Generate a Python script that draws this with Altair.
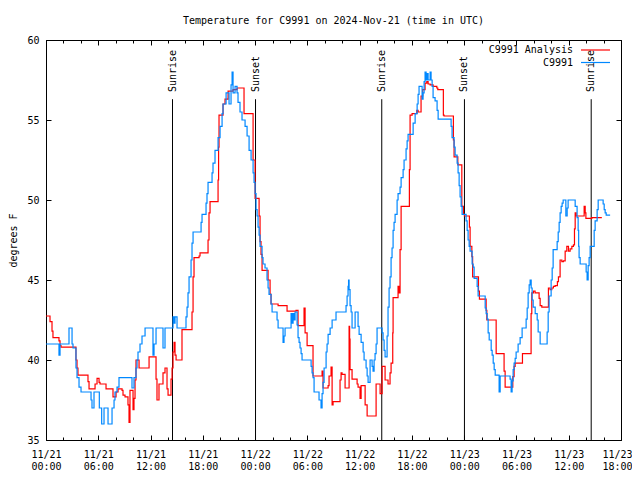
import altair as alt
import pandas as pd

FONT = "DejaVu Sans Mono"
BASE = pd.Timestamp("2024-11-21 00:00:00")

# (hours since 2024-11-21 00:00 UTC, degrees F)
analysis_points = [
    (0.00, 42.75), (0.46, 42.4), (0.69, 41.8), (0.80, 41.4), (1.49, 41.2), (1.61, 40.9), (1.72, 40.8),
    (3.44, 40.0), (3.56, 39.5), (3.67, 39.05), (4.82, 38.65), (4.94, 38.2), (5.63, 38.5), (5.86, 38.85),
    (6.09, 38.6), (6.20, 38.5), (6.89, 38.2), (7.69, 37.7), (8.04, 38.0), (8.27, 38.2), (8.73, 38.1),
    (8.84, 37.8), (9.07, 37.7), (9.41, 37.2), (9.53, 36.1), (9.64, 38.1), (9.99, 36.9), (10.10, 37.6),
    (10.22, 38.75), (10.33, 40.0), (10.68, 39.5), (11.83, 40.2), (12.63, 38.8), (12.74, 37.5), (12.97, 38.5),
    (13.43, 39.2), (13.66, 39.5), (13.89, 38.2), (14.01, 37.8), (14.35, 38.8), (14.47, 39.5), (14.58, 40.5),
    (14.70, 41.1), (14.81, 40.3), (14.93, 40.0), (15.61, 41.9), (16.76, 43.0), (16.88, 45.2), (16.99, 46.4),
    (17.57, 46.5), (17.68, 46.7), (18.60, 47.5), (18.71, 49.2), (18.83, 49.9), (19.75, 51.25), (19.81, 53.3),
    (19.86, 55.3), (20.32, 56.0), (20.55, 56.3), (20.90, 56.8), (21.47, 56.9), (21.93, 57.0), (22.73, 55.4),
    (23.77, 52.5), (24.00, 50.1), (24.46, 49.0), (24.57, 47.4), (24.68, 46.6), (24.80, 45.6), (25.49, 45.0),
    (25.72, 44.1), (25.83, 43.5), (26.64, 43.4), (27.67, 43.06), (28.70, 43.1), (28.93, 42.15), (29.62, 43.25),
    (29.74, 41.7), (29.97, 40.9), (30.65, 39.0), (31.69, 39.3), (31.80, 38.25), (32.38, 38.4), (32.49, 39.0),
    (32.72, 39.55), (32.84, 37.2), (32.95, 37.4), (33.75, 38.75), (33.87, 39.2), (33.98, 39.1), (34.33, 38.25),
    (34.79, 42.1), (34.85, 41.3), (34.90, 39.4), (35.13, 38.8), (35.71, 38.5), (35.82, 38.3), (36.05, 37.6),
    (36.17, 38.4), (36.63, 37.2), (36.86, 36.5), (37.89, 38.5), (38.35, 37.9), (38.58, 39.6), (38.92, 38.75),
    (39.26, 38.5), (39.49, 39.2), (39.61, 39.8), (39.80, 41.7), (39.84, 43.9), (40.41, 44.6), (40.53, 44.2),
    (40.64, 46.9), (40.76, 49.6), (41.71, 51.9), (41.79, 55.3), (42.02, 55.4), (42.56, 55.6), (42.71, 55.5),
    (43.05, 56.5), (43.24, 56.9), (43.51, 57.3), (43.71, 57.4), (43.86, 57.25), (44.09, 57.2), (44.43, 57.1),
    (44.86, 57.0), (44.97, 56.9), (45.61, 55.3), (45.69, 55.25), (46.76, 53.75), (46.84, 52.7), (47.27, 52.2),
    (47.73, 49.6), (47.91, 49.1), (48.03, 49.0), (48.60, 48.3), (48.68, 47.1), (48.88, 46.46), (48.97, 45.2),
    (49.64, 44.3), (49.75, 43.8), (50.52, 43.1), (50.60, 42.5), (51.67, 40.4), (52.58, 39.3), (52.70, 38.3),
    (53.58, 38.96), (53.73, 39.6), (53.85, 39.8), (54.69, 40.4), (55.68, 42.9), (55.76, 44.2), (55.95, 44.3),
    (56.14, 44.2), (56.60, 43.85), (56.72, 43.4), (56.91, 43.3), (57.67, 44.5), (57.86, 44.4), (58.06, 44.5),
    (58.24, 44.6), (58.44, 44.65), (58.70, 44.9), (58.82, 45.2), (59.01, 46.25), (59.21, 46.15), (59.39, 46.2),
    (59.59, 46.8), (59.78, 47.1), (59.97, 46.8), (60.16, 46.95), (60.36, 47.1), (60.54, 47.2), (60.66, 48.2),
    (60.74, 49.2), (60.85, 49.0), (61.77, 49.6), (61.89, 49.2), (61.97, 48.85), (62.65, 48.9), (63.80, 48.9),
]

observed_points = [
    (0.00, 41.0), (1.49, 40.3), (1.61, 41.0), (2.64, 42.0), (2.99, 41.0), (3.10, 40.75), (3.44, 39.5),
    (3.56, 38.9), (3.79, 38.3), (4.02, 38.0), (5.17, 37.5), (5.28, 37.0), (5.51, 38.0), (6.12, 37.0),
    (6.39, 36.0), (6.66, 37.0), (7.12, 36.0), (7.58, 37.0), (7.81, 37.5), (7.92, 38.0), (8.15, 38.3),
    (8.38, 38.9), (9.87, 38.25), (10.10, 38.9), (10.33, 39.5), (10.45, 40.0), (10.56, 40.5), (10.79, 41.0),
    (11.02, 41.5), (11.37, 42.0), (12.28, 40.3), (12.40, 41.0), (12.63, 42.0), (13.43, 40.75), (13.66, 42.0),
    (14.58, 42.7), (14.70, 42.3), (14.81, 42.7), (15.04, 42.0), (16.07, 42.7), (16.19, 43.3), (16.30, 44.2),
    (16.42, 45.2), (16.65, 46.25), (16.76, 47.3), (16.88, 48.0), (17.80, 48.6), (17.91, 49.1), (18.37, 49.8),
    (18.48, 50.4), (18.60, 51.1), (19.06, 51.7), (19.17, 52.3), (19.40, 53.1), (19.75, 53.9), (19.98, 54.6),
    (20.21, 55.4), (20.32, 56.0), (20.67, 56.7), (21.01, 56.0), (21.24, 57.2), (21.36, 58.0), (21.47, 56.7),
    (21.70, 57.1), (21.93, 56.7), (22.04, 56.1), (22.27, 55.5), (22.50, 55.0), (22.85, 54.6), (23.08, 54.0),
    (23.31, 53.1), (23.54, 52.5), (23.77, 51.7), (23.88, 51.1), (24.00, 50.4), (24.11, 49.4), (24.23, 49.0),
    (24.34, 48.3), (24.46, 47.8), (24.57, 47.1), (24.80, 46.4), (24.91, 46.0), (25.14, 45.75), (25.37, 45.0),
    (25.49, 44.5), (25.60, 44.1), (25.83, 43.5), (25.95, 43.0), (26.52, 42.5), (26.64, 42.0), (27.21, 41.1),
    (27.32, 41.5), (27.44, 42.0), (28.13, 42.9), (28.24, 42.3), (28.36, 42.9), (28.47, 42.5), (28.59, 43.0),
    (28.82, 42.2), (28.93, 41.4), (29.05, 41.1), (29.16, 40.75), (29.28, 40.4), (29.39, 40.0), (30.43, 39.6),
    (30.54, 39.2), (30.65, 38.9), (30.77, 38.0), (31.34, 37.5), (31.57, 37.0), (31.69, 37.9), (31.80, 38.6),
    (31.92, 39.5), (32.15, 40.5), (32.26, 41.0), (32.38, 41.6), (32.61, 42.0), (32.84, 42.5), (33.29, 43.0),
    (34.44, 43.4), (34.56, 44.0), (34.67, 44.6), (34.73, 45.0), (34.79, 44.4), (34.90, 43.4), (35.02, 43.0),
    (35.13, 42.0), (35.48, 43.0), (35.82, 42.1), (35.94, 41.6), (36.17, 41.1), (36.40, 40.5), (36.51, 40.0),
    (36.74, 39.5), (36.86, 39.0), (36.97, 38.6), (37.20, 40.0), (37.43, 39.6), (37.54, 39.3), (37.66, 40.0),
    (37.77, 40.4), (37.89, 41.0), (38.00, 42.0), (38.58, 41.7), (38.69, 41.25), (38.81, 40.6), (38.92, 40.2),
    (39.15, 41.5), (39.26, 43.3), (39.38, 44.5), (39.49, 45.2), (39.61, 46.4), (39.72, 47.0), (39.84, 48.1),
    (39.95, 48.6), (40.07, 49.1), (40.30, 50.0), (40.41, 50.4), (40.64, 50.8), (40.76, 51.4), (40.99, 51.9),
    (41.10, 52.5), (41.33, 53.2), (41.45, 53.7), (41.56, 54.1), (42.14, 54.8), (42.37, 55.4), (42.60, 56.0),
    (42.71, 56.6), (42.82, 57.1), (43.05, 57.1), (43.17, 56.3), (43.28, 56.7), (43.40, 57.4), (43.51, 58.0),
    (43.63, 57.5), (43.74, 57.9), (43.86, 57.5), (44.09, 58.0), (44.20, 57.5), (44.32, 57.1), (44.43, 56.4),
    (44.66, 56.2), (44.89, 55.6), (45.01, 55.06), (46.50, 54.6), (46.61, 53.9), (46.84, 53.3), (46.96, 52.8),
    (47.19, 52.3), (47.30, 51.7), (47.42, 50.9), (47.53, 50.2), (47.65, 49.6), (47.76, 49.1), (48.22, 48.7),
    (48.34, 48.1), (48.45, 47.5), (48.57, 47.1), (48.68, 46.8), (48.91, 46.0), (49.03, 45.8), (49.14, 45.1),
    (49.49, 44.6), (49.60, 44.0), (50.41, 43.25), (50.52, 42.9), (50.64, 42.56), (50.75, 41.7), (50.87, 41.25),
    (51.10, 40.6), (51.21, 40.3), (51.33, 39.8), (51.44, 39.4), (51.56, 39.06), (52.01, 38.0), (52.13, 39.0),
    (53.27, 38.8), (53.39, 38.0), (53.50, 38.7), (53.62, 39.4), (53.73, 39.8), (53.85, 40.1), (53.96, 40.5),
    (54.19, 41.0), (54.42, 41.4), (54.65, 42.0), (55.11, 42.56), (55.23, 43.25), (55.34, 44.2), (55.46, 44.7),
    (55.57, 45.0), (55.69, 44.5), (55.80, 43.75), (55.92, 43.3), (56.15, 42.9), (56.38, 42.5), (56.49, 41.75),
    (56.72, 41.0), (57.52, 41.75), (57.64, 43.0), (57.75, 44.0), (57.98, 45.0), (58.10, 45.75), (58.21, 46.9),
    (58.67, 47.4), (58.79, 48.0), (58.90, 48.6), (59.01, 49.2), (59.13, 49.6), (59.24, 49.8), (59.36, 50.0),
    (59.67, 49.0), (59.82, 49.5), (59.93, 50.0), (60.51, 50.0), (60.74, 49.6), (60.96, 48.9), (61.08, 48.1),
    (61.14, 47.1), (61.19, 46.4), (61.31, 46.0), (62.00, 45.5), (62.11, 45.0), (62.23, 45.9), (62.34, 46.4),
    (62.46, 47.1), (62.92, 48.1), (63.03, 48.7), (63.26, 49.4), (63.38, 50.0), (63.84, 50.0), (63.95, 49.75),
    (64.07, 49.4), (64.18, 49.2), (64.30, 49.06), (64.75, 49.06),
]

sun_hours = [14.52, 24.05, 38.54, 48.03, 62.58]
sun_labels = ["Sunrise", "Sunset", "Sunrise", "Sunset", "Sunrise"]
major_tick_hours = list(range(0, 67, 6))
minor_tick_hours = list(range(0, 67, 2))
temp_ticks = [35, 40, 45, 50, 55, 60]
series_names = ["C9991 Analysis", "C9991"]
series_colors = ["#ff0000", "#0088ff"]
title_text = "Temperature for C9991 on 2024-Nov-21 (time in UTC)"


def to_iso(h):
    return (BASE + pd.to_timedelta(h, unit="h")).strftime("%Y-%m-%dT%H:%M:%SZ")


def to_ms(h):
    return int((BASE + pd.to_timedelta(h, unit="h")).value // 10**6)


analysis_df = pd.DataFrame({"time": [to_iso(h) for h, _ in analysis_points],
                            "temp": [t for _, t in analysis_points]})
observed_df = pd.DataFrame({"time": [to_iso(h) for h, _ in observed_points],
                            "temp": [t for _, t in observed_points]})
sun_df = pd.DataFrame({"time": [to_iso(h) for h in sun_hours], "event": sun_labels})
carrier_df = pd.DataFrame({"time": [to_iso(0)], "temp": [35]})

W, H = 575, 400
x_scale = alt.Scale(type="utc", domain=[to_ms(0), to_ms(66)], nice=False)
y_scale = alt.Scale(domain=[35, 60], nice=False, zero=False)

major_vals = [to_ms(h) for h in major_tick_hours]
minor_vals = [to_ms(h) for h in minor_tick_hours]
last_major = major_vals[-1]


def tick_axis(orient, values, size, offset):
    return alt.Axis(orient=orient, values=values, tickSize=size, tickColor="black", tickWidth=1,
                    offset=offset, labels=False, domain=False, grid=False, title=None)


x_label_axis = alt.Axis(
    orient="bottom", values=major_vals, ticks=False, domain=False, grid=False, title=None,
    labelExpr="[utcFormat(datum.value, '%m/%d'), utcFormat(datum.value, '%H:%M')]",
    labelPadding=9, labelLineHeight=12.5, labelFont=FONT, labelFontSize=10,
    labelColor="black", labelOverlap=False, labelFlush=False,
    labelOffset={"condition": {"test": f"datum.value >= {last_major}", "value": -4}, "value": 0},
)
y_label_axis = alt.Axis(
    orient="left", values=temp_ticks, ticks=False, domain=False, grid=False,
    labelPadding=7, labelFont=FONT, labelFontSize=10, labelColor="black", labelFlush=False,
    title="degrees F", titleFont=FONT, titleFontSize=10, titleFontWeight="normal",
    titleColor="black", titlePadding=8,
)

red = alt.Chart(analysis_df).mark_line(
    interpolate="step-after", color=series_colors[0], strokeWidth=1.2
).encode(
    x=alt.X("time:T", scale=x_scale, axis=x_label_axis),
    y=alt.Y("temp:Q", scale=y_scale, axis=y_label_axis),
)

blue = alt.Chart(observed_df).mark_line(
    interpolate="step-after", color=series_colors[1], strokeWidth=1.2
).encode(
    x=alt.X("time:T", scale=x_scale, axis=tick_axis("top", major_vals, 5, -H)),
    y=alt.Y("temp:Q", scale=y_scale, axis=tick_axis("right", temp_ticks, 5, -W)),
)

carrier1 = alt.Chart(carrier_df).mark_point(opacity=0).encode(
    x=alt.X("time:T", scale=x_scale, axis=tick_axis("top", minor_vals, 3, -H)),
    y=alt.Y("temp:Q", scale=y_scale, axis=tick_axis("left", temp_ticks, 5, -W)),
)
carrier2 = alt.Chart(carrier_df).mark_point(opacity=0).encode(
    x=alt.X("time:T", scale=x_scale, axis=tick_axis("bottom", major_vals, 5, -H)),
    y=alt.Y("temp:Q", scale=y_scale, axis=None),
)
carrier3 = alt.Chart(carrier_df).mark_point(opacity=0).encode(
    x=alt.X("time:T", scale=x_scale, axis=tick_axis("bottom", minor_vals, 3, -H)),
    y=alt.Y("temp:Q", scale=y_scale, axis=None),
)

sun_rules = alt.Chart(sun_df).mark_rule(color="black", strokeWidth=1).encode(
    x=alt.X("time:T", scale=x_scale, axis=None),
    y=alt.YDatum(56.3, scale=y_scale, axis=None),
    y2=alt.Y2Datum(35),
)
sun_text = alt.Chart(sun_df).mark_text(
    angle=270, align="left", baseline="middle", font=FONT, fontSize=10, color="black"
).encode(
    x=alt.X("time:T", scale=x_scale, axis=None),
    y=alt.YDatum(56.75, scale=y_scale, axis=None),
    text="event:N",
)

legend_layers = []
for i, (name, col) in enumerate(zip(series_names, series_colors)):
    ldf = pd.DataFrame({"label": [name]})
    ypix = 10 + 12.5 * i
    legend_layers.append(
        alt.Chart(ldf).mark_text(align="right", baseline="middle", font=FONT, fontSize=10,
                                 color="black").encode(
            x=alt.value(527), y=alt.value(ypix), text="label:N")
    )
    legend_layers.append(
        alt.Chart(ldf).mark_rule(color=col, strokeWidth=1.2).encode(
            x=alt.value(535), x2=alt.value(564), y=alt.value(ypix))
    )

chart = alt.layer(
    carrier1, carrier2, carrier3, sun_rules, sun_text, red, blue, *legend_layers
).resolve_axis(
    x="independent", y="independent"
).properties(
    width=W, height=H,
    title=alt.TitleParams(text=title_text, font=FONT, fontSize=10, fontWeight="normal",
                          color="black", anchor="middle", frame="group", offset=9),
    padding={"left": 38, "top": 32, "right": 11, "bottom": 32},
    autosize=alt.AutoSizeParams(type="none"),
    background="white",
).configure_view(stroke="black", strokeWidth=1)

chart.save("out.html", embed_options={"renderer": "svg", "actions": False})
